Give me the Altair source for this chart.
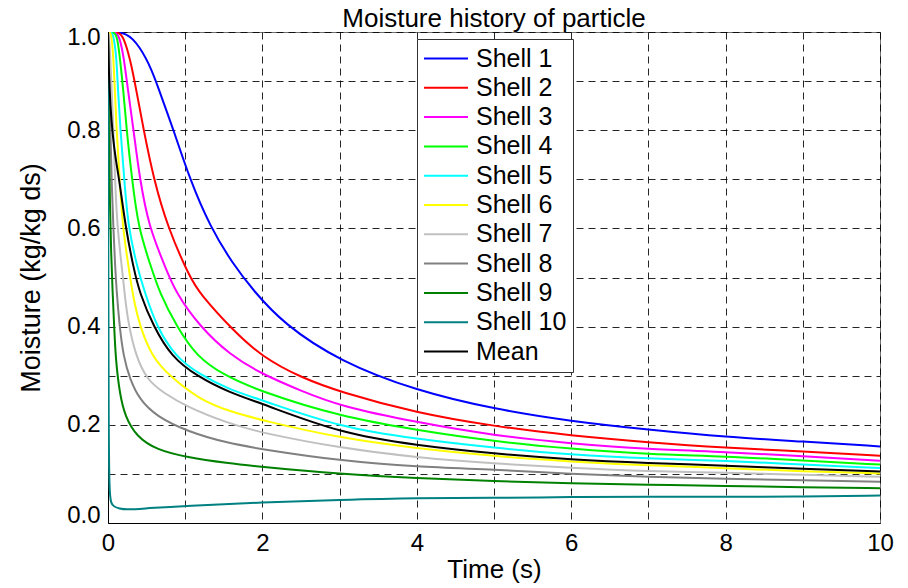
import altair as alt
import pandas as pd

series_names = ["Shell 1", "Shell 2", "Shell 3", "Shell 4", "Shell 5", "Shell 6",
                "Shell 7", "Shell 8", "Shell 9", "Shell 10", "Mean"]
series_colors = ["#0000FF", "#FF0000", "#FF00FF", "#00FF00", "#00FFFF", "#FFFF00",
                 "#C0C0C0", "#808080", "#008000", "#008080", "#000000"]

shell1_t = [0, 0.24, 0.41, 0.57, 0.69, 0.85, 1.06, 1.32, 1.62, 1.88, 2.27, 3, 4, 5, 6, 7, 8, 9, 10]
shell1_m = [1.0, 1.0, 0.971, 0.923, 0.869, 0.80, 0.70, 0.604, 0.527, 0.474, 0.406, 0.329, 0.269, 0.232, 0.207, 0.190, 0.175, 0.166, 0.156]

shell2_t = [0, 0.14, 0.2, 0.285, 0.37, 0.46, 0.59, 0.77, 1.06, 1.19, 1.62, 2.0, 2.49, 3, 4, 5, 6, 7, 8, 9, 10]
shell2_m = [1.0, 1.0, 0.99, 0.947, 0.879, 0.802, 0.702, 0.603, 0.50, 0.467, 0.392, 0.338, 0.297, 0.267, 0.224, 0.197, 0.178, 0.164, 0.153, 0.146, 0.137]

shell3_t = [0, 0.1, 0.15, 0.207, 0.26, 0.33, 0.41, 0.53, 0.74, 0.88, 1.19, 1.58, 2.0, 2.49, 3, 4, 5, 6, 7, 8, 9, 10]
shell3_m = [1.0, 1.0, 0.99, 0.947, 0.879, 0.802, 0.702, 0.603, 0.522, 0.468, 0.40, 0.342, 0.303, 0.270, 0.238, 0.205, 0.178, 0.162, 0.150, 0.145, 0.136, 0.127]

shell4_t = [0, 0.08, 0.12, 0.155, 0.2, 0.24, 0.31, 0.39, 0.55, 0.67, 0.89, 1.15, 1.49, 1.97, 3, 4, 5, 6, 7, 8, 9, 10]
shell4_m = [1.0, 1.0, 0.99, 0.947, 0.879, 0.802, 0.702, 0.603, 0.525, 0.468, 0.400, 0.339, 0.302, 0.268, 0.217, 0.189, 0.166, 0.151, 0.140, 0.136, 0.127, 0.119]

shell5_t = [0, 0.05, 0.08, 0.11, 0.13, 0.16, 0.21, 0.26, 0.38, 0.48, 0.63, 0.87, 1.19, 1.58, 2.0, 3, 4, 5, 6, 7, 8, 9, 10]
shell5_m = [1.0, 1.0, 0.985, 0.947, 0.879, 0.802, 0.702, 0.603, 0.52, 0.468, 0.40, 0.339, 0.302, 0.271, 0.250, 0.195, 0.171, 0.153, 0.139, 0.131, 0.127, 0.119, 0.112]

shell6_t = [0, 0.03, 0.05, 0.07, 0.09, 0.11, 0.15, 0.19, 0.25, 0.29, 0.34, 0.405, 0.565, 0.8, 1.19, 1.58, 2.0, 3, 4, 5, 6, 7, 8, 9, 10]
shell6_m = [1.0, 1.0, 0.985, 0.947, 0.879, 0.802, 0.702, 0.603, 0.54, 0.495, 0.45, 0.405, 0.339, 0.299, 0.251, 0.227, 0.209, 0.173, 0.152, 0.136, 0.125, 0.117, 0.112, 0.105, 0.101]

shell7_t = [0, 0.015, 0.03, 0.048, 0.07, 0.09, 0.12, 0.18, 0.22, 0.26, 0.35, 0.5, 0.72, 1.02, 1.54, 2.0, 3, 4, 5, 6, 7, 8, 9, 10]
shell7_m = [1.0, 0.99, 0.95, 0.879, 0.802, 0.702, 0.603, 0.52, 0.46, 0.41, 0.345, 0.292, 0.265, 0.237, 0.204, 0.183, 0.153, 0.133, 0.121, 0.112, 0.105, 0.103, 0.098, 0.094]

shell8_t = [0, 0.01, 0.03, 0.05, 0.07, 0.09, 0.11, 0.15, 0.2, 0.285, 0.41, 0.63, 1.02, 1.54, 2.0, 3, 4, 5, 6, 7, 8, 9, 10]
shell8_m = [1.0, 0.95, 0.80, 0.68, 0.60, 0.53, 0.475, 0.40, 0.339, 0.292, 0.251, 0.217, 0.187, 0.163, 0.150, 0.127, 0.114, 0.109, 0.100, 0.094, 0.090, 0.087, 0.084]

shell9_t = [0, 0.005, 0.015, 0.025, 0.04, 0.06, 0.08, 0.1, 0.15, 0.22, 0.37, 0.63, 1.02, 1.54, 2.0, 3, 4, 5, 6, 7, 8, 9, 10]
shell9_m = [1.0, 0.9, 0.75, 0.65, 0.55, 0.468, 0.40, 0.333, 0.265, 0.217, 0.176, 0.149, 0.134, 0.122, 0.114, 0.100, 0.091, 0.085, 0.081, 0.078, 0.075, 0.073, 0.071]

shell10_t = [0, 0.003, 0.008, 0.017, 0.04, 0.07, 0.15, 0.24, 0.5, 1.0, 2.0, 3, 4, 5, 6, 7, 8, 9, 10]
shell10_m = [1.0, 0.6, 0.2, 0.061, 0.04, 0.034, 0.029, 0.027, 0.03, 0.035, 0.042, 0.047, 0.051, 0.051, 0.053, 0.054, 0.053, 0.054, 0.056]

mean_t = [0, 0.01, 0.03, 0.06, 0.1, 0.145, 0.23, 0.33, 0.41, 0.59, 0.82, 1.15, 1.58, 2.0, 3, 4, 5, 6, 7, 8, 9, 10]
mean_m = [1.0, 0.92, 0.85, 0.79, 0.74, 0.70, 0.60, 0.52, 0.468, 0.40, 0.339, 0.299, 0.265, 0.243, 0.183, 0.158, 0.141, 0.129, 0.122, 0.117, 0.110, 0.105]

x_ticks = [0, 1, 2, 3, 4, 5, 6, 7, 8, 9, 10]
y_ticks = [0.0, 0.1, 0.2, 0.3, 0.4, 0.5, 0.6, 0.7, 0.8, 0.9, 1.0]

all_t = [shell1_t, shell2_t, shell3_t, shell4_t, shell5_t, shell6_t,
         shell7_t, shell8_t, shell9_t, shell10_t, mean_t]
all_m = [shell1_m, shell2_m, shell3_m, shell4_m, shell5_m, shell6_m,
         shell7_m, shell8_m, shell9_m, shell10_m, mean_m]

rows = []
for k, (name, ts, ms) in enumerate(zip(series_names, all_t, all_m)):
    for t, m in zip(ts, ms):
        rows.append({"series": name, "k": k, "t": t, "m": m})
df = pd.DataFrame(rows)

FONT = "Liberation Sans"

chart = alt.Chart(df).mark_line(strokeWidth=2, interpolate="basis", clip=True).encode(
    x=alt.X("t:Q", scale=alt.Scale(domain=[0, 10], nice=False, zero=False),
            axis=alt.Axis(values=x_ticks, title="Time (s)", labelFlush=False, titleFontSize=26,
                          labelExpr="datum.value % 2 == 0 ? datum.label : ''")),
    y=alt.Y("m:Q", scale=alt.Scale(domain=[0, 1], nice=False),
            axis=alt.Axis(values=y_ticks, title="Moisture (kg/kg ds)", titlePadding=21,
                          titleFontSize=27, labelFlush=False,
                          labelOffset={"condition": [{"test": "datum.value == 1", "value": 5},
                                                     {"test": "datum.value == 0", "value": -8}],
                                       "value": 0},
                          labelExpr="round(datum.value * 10) % 2 == 0 ? format(datum.value, '.1f') : ''")),
    color=alt.Color("series:N", sort=series_names,
                    scale=alt.Scale(domain=series_names, range=series_colors),
                    legend=alt.Legend(title=None, orient="none", legendX=309, legendY=7,
                                      symbolType="stroke", symbolSize=1936, symbolStrokeWidth=2,
                                      clipHeight=27, rowPadding=2.3, padding=6, labelOffset=7,
                                      symbolOffset=0, labelLimit=300,
                                      labelFont=FONT, labelFontSize=25, labelColor="#000000",
                                      strokeColor="#333333", fillColor="#FFFFFF")),
    order=alt.Order("t:Q"),
).properties(
    width=772,
    height=491,
    title=alt.TitleParams("Moisture history of particle", font=FONT, fontSize=26,
                          fontWeight="normal", color="#000000", offset=-7, anchor="middle"),
    autosize=alt.AutoSizeParams(type="none"),
    padding={"left": 108, "top": 32, "right": 28, "bottom": 65},
    background="#FFFFFF",
).configure_view(
    stroke="#707070", strokeWidth=1
).configure_axis(
    labelFont=FONT, labelFontSize=24, labelColor="#000000",
    titleFont=FONT, titleFontSize=24, titleFontWeight="normal", titleColor="#000000",
    grid=True, gridColor="#000000", gridDash=[7, 5], gridWidth=1, gridOpacity=0.85,
    domainColor="#000000", domainWidth=1, ticks=False, labelPadding=8,
).configure_axisX(
    titlePadding=1
)

chart.save("out.html", embed_options={"renderer": "svg", "actions": False})
